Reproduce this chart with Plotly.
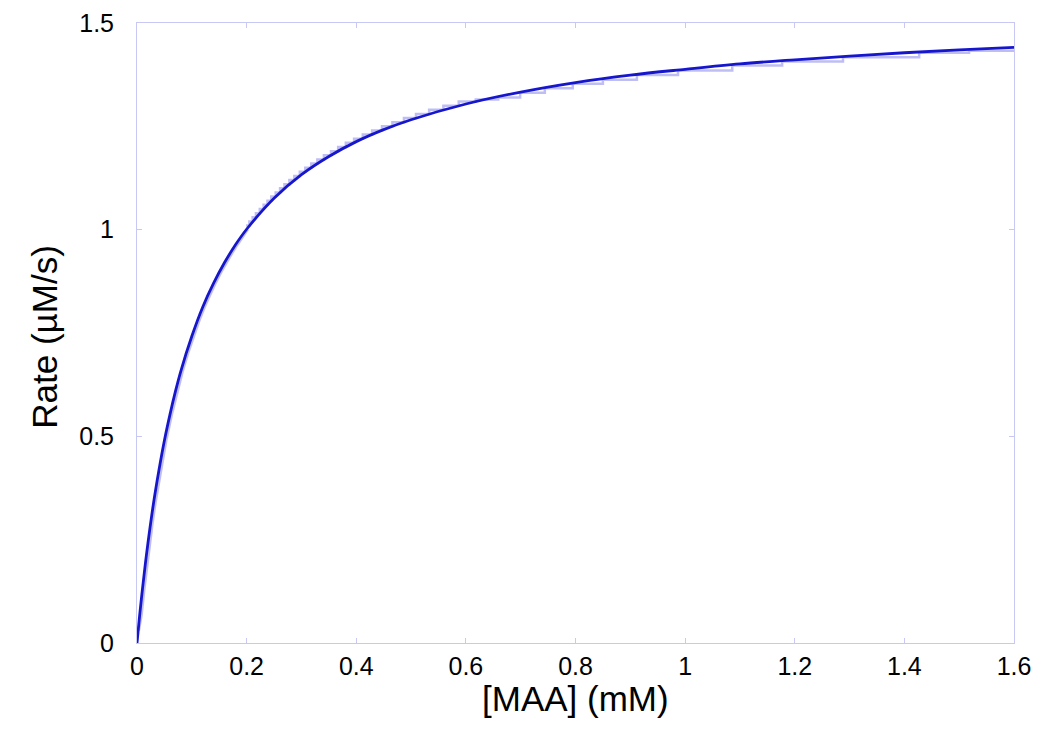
import plotly.graph_objects as go

# Fitted curve
fit_x = [0, 0.0025, 0.005, 0.01, 0.015, 0.02, 0.03, 0.04, 0.05, 0.06, 0.07, 0.08,
         0.10, 0.12, 0.14, 0.16, 0.18, 0.20, 0.25, 0.30, 0.35, 0.40, 0.45, 0.50,
         0.60, 0.70, 0.80, 0.90, 1.00, 1.10, 1.20, 1.30, 1.40, 1.50, 1.60]
fit_y = [0, 0.035, 0.069, 0.131, 0.189, 0.242, 0.337, 0.418, 0.490, 0.552, 0.608, 0.658,
         0.742, 0.813, 0.871, 0.921, 0.964, 1.001, 1.076, 1.133, 1.177, 1.213, 1.242, 1.266,
         1.304, 1.333, 1.356, 1.374, 1.388, 1.401, 1.411, 1.420, 1.428, 1.435, 1.441]

low_x = [0.003, 0.008, 0.013, 0.018, 0.023, 0.028, 0.033, 0.043, 0.053, 0.063, 0.073, 0.083, 0.093,
         0.103, 0.113, 0.123, 0.133, 0.143, 0.153, 0.163, 0.173, 0.183, 0.193, 0.202]
low_y = [0.03, 0.069, 0.131, 0.189, 0.242, 0.291, 0.337, 0.418, 0.490, 0.552, 0.608, 0.658, 0.702,
         0.742, 0.779, 0.813, 0.843, 0.871, 0.897, 0.921, 0.943, 0.964, 0.983, 1.001]

step_x = [0.199, 0.205, 0.211, 0.217, 0.224, 0.231, 0.238, 0.245, 0.253, 0.261,
          0.269, 0.278, 0.287, 0.297, 0.307, 0.318, 0.329, 0.341, 0.354, 0.367,
          0.381, 0.396, 0.412, 0.429, 0.447, 0.466, 0.487, 0.509, 0.533, 0.559,
          0.587, 0.618, 0.659, 0.699, 0.744, 0.795, 0.850, 0.912, 0.987, 1.086,
          1.177, 1.288, 1.427, 1.518, 1.600]
step_y = [1.01, 1.02, 1.03, 1.04, 1.05, 1.06, 1.07, 1.08, 1.09, 1.10,
          1.11, 1.12, 1.13, 1.14, 1.15, 1.16, 1.17, 1.18, 1.19, 1.20,
          1.21, 1.22, 1.23, 1.24, 1.25, 1.26, 1.27, 1.28, 1.29, 1.30,
          1.31, 1.315, 1.320, 1.331, 1.342, 1.353, 1.363, 1.374, 1.385, 1.397,
          1.407, 1.417, 1.428, 1.433, 1.433]

x_ticks = [0, 0.2, 0.4, 0.6, 0.8, 1.0, 1.2, 1.4, 1.6]
x_labels = ["0", "0.2", "0.4", "0.6", "0.8", "1", "1.2", "1.4", "1.6"]
y_ticks = [0, 0.5, 1.0, 1.5]
y_labels = ["0", "0.5", "1", "1.5"]

FONT = "Liberation Sans, Arial, Helvetica, sans-serif"
DATA_COLOR = "rgba(125,125,235,0.5)"

fig = go.Figure()
fig.add_trace(go.Scatter(x=low_x, y=low_y, mode="lines",
                         line=dict(color=DATA_COLOR, width=3),
                         showlegend=False, hoverinfo="skip"))
fig.add_trace(go.Scatter(x=step_x, y=step_y, mode="lines", line_shape="hv",
                         line=dict(color=DATA_COLOR, width=2.5),
                         showlegend=False, hoverinfo="skip"))
fig.add_trace(go.Scatter(x=fit_x, y=fit_y, mode="lines", line_shape="spline",
                         line=dict(color="rgb(22,22,205)", width=2.8),
                         showlegend=False))

axis_common = dict(showline=True, linecolor="#c8c8f4", linewidth=1, mirror="ticks",
                   ticks="inside", ticklen=5, tickcolor="#c8c8f4", showgrid=False,
                   zeroline=False, tickfont=dict(family=FONT, size=25, color="black"))

fig.update_xaxes(range=[0, 1.6], tickvals=x_ticks, ticktext=x_labels,
                 ticklabelstandoff=1, **axis_common)
fig.update_yaxes(range=[0, 1.5], tickvals=y_ticks, ticktext=y_labels,
                 ticklabelstandoff=17, **axis_common)

fig.add_annotation(text="[MAA] (mM)", xref="paper", yref="paper", x=0.5, y=-0.0903,
                   xanchor="center", yanchor="middle", showarrow=False,
                   font=dict(family=FONT, size=35, color="black"))
fig.add_annotation(text="Rate (µM/s)", xref="paper", yref="paper", x=-0.1049, y=0.494,
                   xanchor="center", yanchor="middle", showarrow=False, textangle=-90,
                   font=dict(family=FONT, size=35, color="black"))

fig.update_layout(width=1053, height=730, margin=dict(l=137, r=39, t=23, b=87, autoexpand=False),
                  plot_bgcolor="white", paper_bgcolor="white")

fig.write_html("out.html")
